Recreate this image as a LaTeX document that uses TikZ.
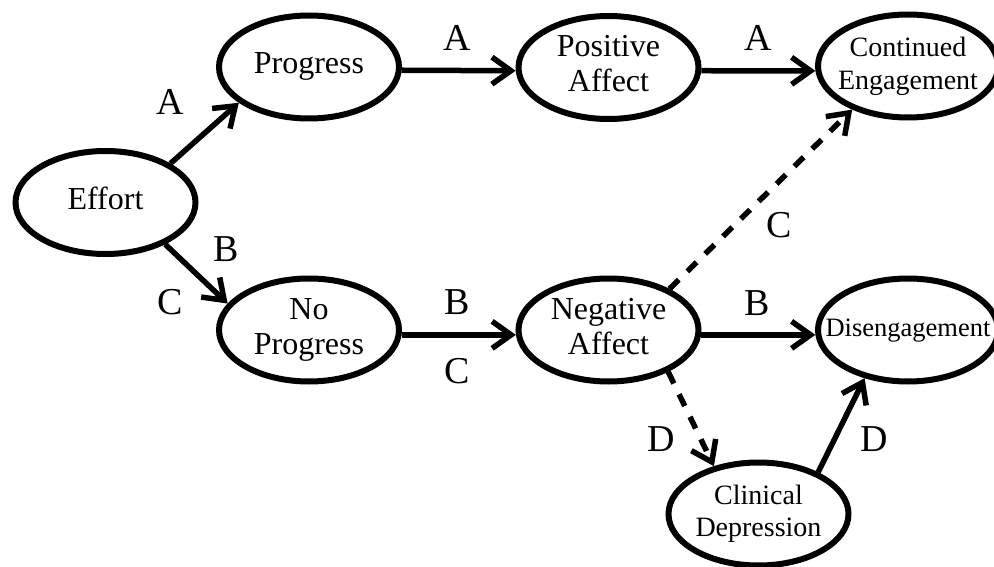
\documentclass[tikz,border=0pt]{standalone}
\usepackage{fontspec}
\setmainfont{Liberation Serif}
\usetikzlibrary{shapes.geometric,arrows.meta}
\newcommand{\ntext}[1]{\makebox[0pt]{\begin{tabular}{@{}c@{}}#1\end{tabular}}}
\begin{document}
\begin{tikzpicture}[x=1pt,y=-1pt,
  ell/.style={ellipse,draw,line width=6pt,minimum width=180pt,minimum height=103pt,inner sep=0pt,font=\fontsize{32}{35}\selectfont},
  conn/.style={line width=5.5pt,-{Straight Barb[length=19pt,width=27pt,sharp]}},
  dconn/.style={conn,dash pattern=on 13pt off 12pt},
  lab/.style={font=\fontsize{38}{40}\selectfont,inner sep=0pt}]
\useasboundingbox (0,0) rectangle (994,567);
\node[ell] (effort) at (105.5,202.5) {\ntext{Effort}};
\node[ell] (prog) at (309,67) {\ntext{Progress}};
\node[ell] (pos) at (608.5,67.5) {\ntext{Positive\\Affect}};
\node[ell,font=\fontsize{28}{33}\selectfont] (cont) at (908,66) {\ntext{Continued\\Engagement}};
\node[ell] (noprog) at (309,330) {\ntext{No\\Progress}};
\node[ell] (neg) at (608.5,330) {\ntext{Negative\\Affect}};
\node[ell,font=\fontsize{26.5}{30}\selectfont] (dis) at (908,330) {\ntext{Disengagement}};
\node[ell,font=\fontsize{28}{32}\selectfont] (clin) at (758.5,514) {\ntext{Clinical\\Depression}};

\draw[conn] (effort.31) -- (prog.207);
\draw[conn] (effort.-35) -- (noprog.162);
\draw[conn] (prog.-2) -- (pos.182);
\draw[conn] (pos.-2) -- (cont.183);
\draw[dconn] (neg.34) -- (cont.218);
\draw[conn] (noprog.-3) -- (neg.183);
\draw[conn] (neg.-3) -- (dis.183);
\draw[dconn] (neg.-35) -- (clin.133);
\draw[conn] (clin.35) -- (dis.228);

\node[lab] (lA1) at (170,102) {A};
\node[lab] (lA2) at (457,37.5) {A};
\node[lab] (lA3) at (758,37.5) {A};
\node[lab] (lB1) at (226,249.5) {B};
\node[lab] (lC1) at (170,302) {C};
\node[lab] (lB2) at (457.5,302.5) {B};
\node[lab] (lC2) at (457.5,371) {C};
\node[lab] (lC3) at (779.5,225) {C};
\node[lab] (lB3) at (757.5,303.5) {B};
\node[lab] (lD1) at (661,439.5) {D};
\node[lab] (lD2) at (874,439.5) {D};
\end{tikzpicture}
\end{document}
